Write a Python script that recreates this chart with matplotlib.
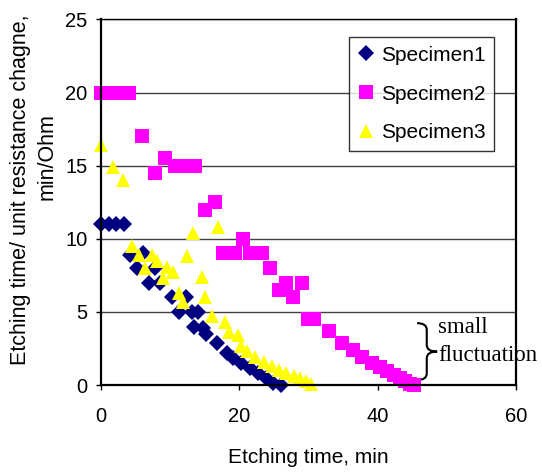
import matplotlib
matplotlib.use("Agg")
import matplotlib.pyplot as plt
from matplotlib.path import Path
from matplotlib.patches import PathPatch

plt.rcParams['font.family'] = ['Liberation Sans', 'DejaVu Sans']

# Specimen1 (navy diamonds)
s1_x = [0, 1.1, 2.2, 3.3, 4.2, 6.1, 5.2, 7.8, 7.0, 8.6, 10.3, 12.3, 11.3, 13.2, 14.0,
        13.4, 14.8, 15.2, 16.8, 18.2, 19.1, 20.3, 21.5, 22.7, 23.9, 24.9, 26.0]
s1_y = [11, 11, 11, 11, 8.9, 9.0, 8.0, 8.0, 7.0, 7.0, 6.0, 6.0, 5.0, 5.0, 5.0,
        4.0, 3.9, 3.5, 2.9, 2.2, 1.85, 1.5, 1.15, 0.8, 0.5, 0.15, 0.0]

# Specimen2 (magenta squares)
s2_x = [0, 2, 4, 6, 7.8, 9.3, 10.7, 12.2, 13.6, 15.1, 16.5, 17.7, 19.4, 20.6, 21.6,
        23.3, 24.5, 25.8, 26.7, 27.8, 29.0, 30.0, 30.8, 33.0, 34.8, 36.4, 37.8,
        39.2, 40.4, 41.4, 42.3, 43.2, 44.0, 44.7, 45.3]
s2_y = [20, 20, 20, 17, 14.5, 15.5, 15, 15, 15, 12, 12.5, 9, 9, 10, 9,
        9, 8, 6.5, 7, 6, 7, 4.5, 4.5, 3.7, 2.9, 2.4, 1.9,
        1.5, 1.2, 0.95, 0.7, 0.5, 0.3, 0.1, 0.0]

# Specimen3 (yellow triangles)
s3_x = [0, 1.7, 3.2, 4.5, 5.5, 7.4, 8.1, 6.4, 9.6, 10.4, 9.0, 12.5, 13.3, 14.6,
        11.3, 11.9, 15.1, 16.9, 16.1, 18.0, 18.5, 19.8, 20.2, 21.1, 22.2, 23.5,
        24.7, 25.8, 26.8, 27.9, 28.8, 29.6, 30.3]
s3_y = [16.4, 14.9, 14.0, 9.5, 8.9, 8.9, 8.5, 8.0, 8.1, 7.7, 7.3, 8.8, 10.4, 7.4,
        6.3, 5.7, 6.0, 10.8, 4.7, 4.3, 3.6, 3.4, 2.7, 2.3, 1.95, 1.6,
        1.3, 1.05, 0.85, 0.6, 0.45, 0.3, 0.1]

x_ticks = [0, 20, 40, 60]
y_ticks = [0, 5, 10, 15, 20, 25]

fig = plt.figure(figsize=(5.42, 4.72), dpi=100)
ax = fig.add_axes([0.1863, 0.1843, 0.7657, 0.7744])

ax.plot(s1_x, s1_y, 'D', color='#000080', ms=7.8, mew=0, label='Specimen1', clip_on=False)
ax.plot(s2_x, s2_y, 's', color='#FF00FF', ms=9.5, mew=0, label='Specimen2', clip_on=False)
ax.plot(s3_x, s3_y, '^', color='#FFFF00', ms=9.5, mew=0, label='Specimen3', clip_on=False)

ax.set_xlim(0, 60)
ax.set_ylim(0, 25)
ax.set_xticks(x_ticks)
ax.set_yticks(y_ticks)
ax.tick_params(direction='out', length=3.6, width=1, labelsize=14.5)
ax.tick_params(axis='x', pad=12)
ax.tick_params(axis='y', pad=6)

for yv in y_ticks[1:]:
    ax.axhline(yv, color='#404040', lw=1, zorder=0)

for side in ['left', 'bottom', 'right']:
    ax.spines[side].set_linewidth(1.6)
    ax.spines[side].set_color('black')
ax.spines['top'].set_linewidth(1)

ax.set_xlabel('Etching time, min', fontsize=15, labelpad=16)

# two-line y label, placed line by line like the original
fig.text(0.037, 0.597, 'Etching time/ unit resistance chagne,', rotation=90,
         fontsize=15.5, ha='center', va='center')
fig.text(0.087, 0.669, 'min/Ohm', rotation=90, fontsize=15.5, ha='center', va='center')

leg = ax.legend(loc='upper left', bbox_to_anchor=(0.598, 0.951), fontsize=15,
                frameon=True, fancybox=False, edgecolor='black', borderpad=0.4,
                labelspacing=0.95, handletextpad=0.35, handlelength=0.8,
                borderaxespad=0)
leg.get_frame().set_linewidth(1)

# curly brace for the annotation
x0, xm, xt = 45.7, 47.1, 48.6
yt, yb = 4.23, 0.34
ym = (yt + yb) / 2
r = 0.45
verts = [(x0, yt), (xm, yt), (xm, yt - r), (xm, ym + r), (xm, ym), (xt, ym),
         (xm, ym), (xm, ym - r), (xm, yb + r), (xm, yb), (x0, yb)]
codes = [Path.MOVETO, Path.CURVE3, Path.CURVE3, Path.LINETO, Path.CURVE3, Path.CURVE3,
         Path.CURVE3, Path.CURVE3, Path.LINETO, Path.CURVE3, Path.CURVE3]
ax.add_patch(PathPatch(Path(verts, codes), fill=False, lw=1.5, color='black', clip_on=False))

ax.text(48.7, 3.9, 'small', fontsize=16.5, family='Liberation Serif', ha='left', va='center', clip_on=False)
ax.text(48.7, 2.05, 'fluctuation', fontsize=16.5, family='Liberation Serif', ha='left', va='center', clip_on=False)

fig.savefig('out.png', dpi=100)
